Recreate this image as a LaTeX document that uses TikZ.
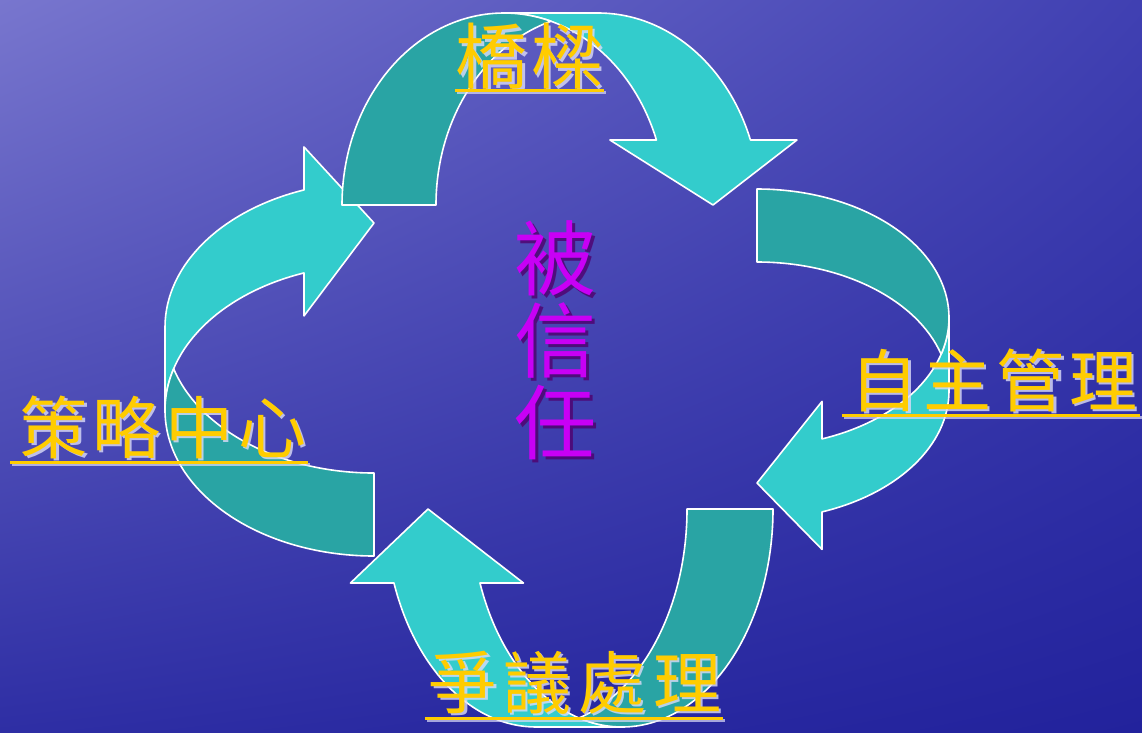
\documentclass[tikz,border=0pt]{standalone}
\usepackage{fontspec}
\newfontfamily\cjk{Noto Sans CJK TC}
\usetikzlibrary{shadings}
\definecolor{tealL}{RGB}{51,204,204}
\definecolor{tealD}{RGB}{41,164,164}
\definecolor{labelY}{RGB}{255,204,0}
\definecolor{glow}{RGB}{220,220,248}
\definecolor{purpleT}{RGB}{200,0,245}
\definecolor{purpleS}{RGB}{80,0,110}
\definecolor{bgUL}{RGB}{120,118,206}
\definecolor{bgUR}{RGB}{64,64,178}
\definecolor{bgLL}{RGB}{46,46,164}
\definecolor{bgLR}{RGB}{34,34,156}
\tikzset{
  lightarrow/.style={fill=tealL, draw=white, line width=1.6pt, line join=round},
  darkarrow/.style={fill=tealD, draw=white, line width=1.6pt, line join=round},
  lbl/.style={font=\cjk\fontsize{68}{68}\selectfont, text=labelY, inner sep=0pt, anchor=base},
  lblsh/.style={lbl, text=glow, opacity=0.8},
  uline/.style={draw=labelY, line width=3pt},
  ulinesh/.style={draw=glow, line width=3pt, opacity=0.7},
  ctr/.style={font=\cjk\fontsize{82}{82}\selectfont, text=purpleT, inner sep=0pt, align=center},
  ctrsh/.style={ctr, text=purpleS, opacity=0.8},
}
% curved ribbon arrow: th, aw, ah, h, w  (local frame: tail at origin, bulge to +y)
\newcommand\curvarr[5]{%
  \pgfmathsetmacro\cath{#1}%
  \pgfmathsetmacro\caaw{#2}%
  \pgfmathsetmacro\caah{#3}%
  \pgfmathsetmacro\cah{#4}%
  \pgfmathsetmacro\caw{#5}%
  \pgfmathsetmacro\cawr{\caw/2-(\cath+\caaw)/4}%
  \pgfmathsetmacro\cat{asin(\caah/\cah)}%
  \pgfmathsetmacro\caxv{\cawr+\cawr*cos(\cat)}%
  \pgfmathsetmacro\caxvii{\caxv+\cath}%
  \pgfmathsetmacro\cadh{(\caaw-\cath)/2}%
  \pgfmathsetmacro\caxiv{\caxv-\cadh}%
  \pgfmathsetmacro\caxviii{\caxvii+\cadh}%
  \pgfmathsetmacro\caxvi{\caw-\caaw/2}%
  \pgfmathsetmacro\cac{acos(\cath/(2*\cawr))}%
  \pgfmathsetmacro\cacc{180-\cac}%
  \pgfmathsetmacro\caB{\cawr+\cath}%
  \path[lightarrow] (\cawr,\cah) -- (\caB,\cah)
     arc[start angle=90,end angle=\cat,x radius=\cawr,y radius=\cah]
     -- (\caxviii,\caah) -- (\caxvi,0) -- (\caxiv,\caah) -- (\caxv,\caah)
     arc[start angle=\cat,end angle=90,x radius=\cawr,y radius=\cah] -- cycle;
  \path[darkarrow] (0,0)
     arc[start angle=180,end angle=\cac,x radius=\cawr,y radius=\cah]
     arc[start angle=\cacc,end angle=180,x radius=\cawr,y radius=\cah] -- cycle;
}
\begin{document}
\begin{tikzpicture}[x=1pt,y=1pt]
\useasboundingbox (0,0) rectangle (1142,-732);
\shade[upper left=bgUL, upper right=bgUR, lower left=bgLL, lower right=bgLR] (0,0) rectangle (1142,-732);

% arrows
\begin{scope}[shift={(374,-556)}, rotate=90]
  \curvarr{83}{169}{70}{209}{417.5}
\end{scope}
\begin{scope}[shift={(773,-509)}, rotate=180]
  \curvarr{86}{173}{74}{218}{431.5}
\end{scope}
\begin{scope}[shift={(757,-189)}, rotate=-90]
  \curvarr{73}{148}{65}{192}{368}
\end{scope}
\begin{scope}[shift={(342,-205)}]
  \curvarr{94}{187}{65}{192}{464.5}
\end{scope}

% centre text
\node[ctrsh] (trustS) at (558,-343) {被\\信\\任};
\node[ctr] (trust) at (555,-340) {被\\信\\任};

% labels
\node[lblsh, font=\cjk\fontsize{72}{72}\selectfont, minimum width=149pt] (bridgeS) at (532,-86) {橋\hspace{4pt}樑};
\node[lbl, font=\cjk\fontsize{72}{72}\selectfont, minimum width=149pt] (bridge) at (529.5,-83) {橋\hspace{4pt}樑};
\draw[ulinesh] ([shift={(2pt,-9pt)}]bridge.base west) -- ([shift={(2pt,-9pt)}]bridge.base east);
\draw[uline] ([yshift=-7pt]bridge.base west) -- ([yshift=-7pt]bridge.base east);

\node[lblsh, minimum width=298pt] (selfS) at (996.5,-408.5) {自\hspace{5pt}主\hspace{5pt}管\hspace{5pt}理};
\node[lbl, minimum width=298pt] (self) at (994,-406) {自\hspace{5pt}主\hspace{5pt}管\hspace{5pt}理};
\draw[ulinesh] ([shift={(-1pt,-11pt)}]self.base west) -- ([shift={(-1pt,-11pt)}]self.base east);
\draw[uline] ([shift={(-3pt,-9pt)}]self.base west) -- ([shift={(-3pt,-9pt)}]self.base east);

\node[lblsh, minimum width=298pt] (stratS) at (165.5,-455.5) {策\hspace{5pt}略\hspace{5pt}中\hspace{5pt}心};
\node[lbl, minimum width=298pt] (strat) at (163,-453) {策\hspace{5pt}略\hspace{5pt}中\hspace{5pt}心};
\draw[ulinesh] ([shift={(-2pt,-11pt)}]strat.base west) -- ([shift={(-2pt,-11pt)}]strat.base east);
\draw[uline] ([shift={(-4pt,-9pt)}]strat.base west) -- ([shift={(-4pt,-9pt)}]strat.base east);

\node[lblsh, minimum width=298pt] (disputeS) at (577.5,-710.5) {爭\hspace{7pt}議\hspace{7pt}處\hspace{7pt}理};
\node[lbl, minimum width=298pt] (dispute) at (575,-708) {爭\hspace{7pt}議\hspace{7pt}處\hspace{7pt}理};
\draw[ulinesh] ([shift={(1pt,-12pt)}]dispute.base west) -- ([shift={(1pt,-12pt)}]dispute.base east);
\draw[uline] ([shift={(-1pt,-10pt)}]dispute.base west) -- ([shift={(-1pt,-10pt)}]dispute.base east);
\end{tikzpicture}
\end{document}
